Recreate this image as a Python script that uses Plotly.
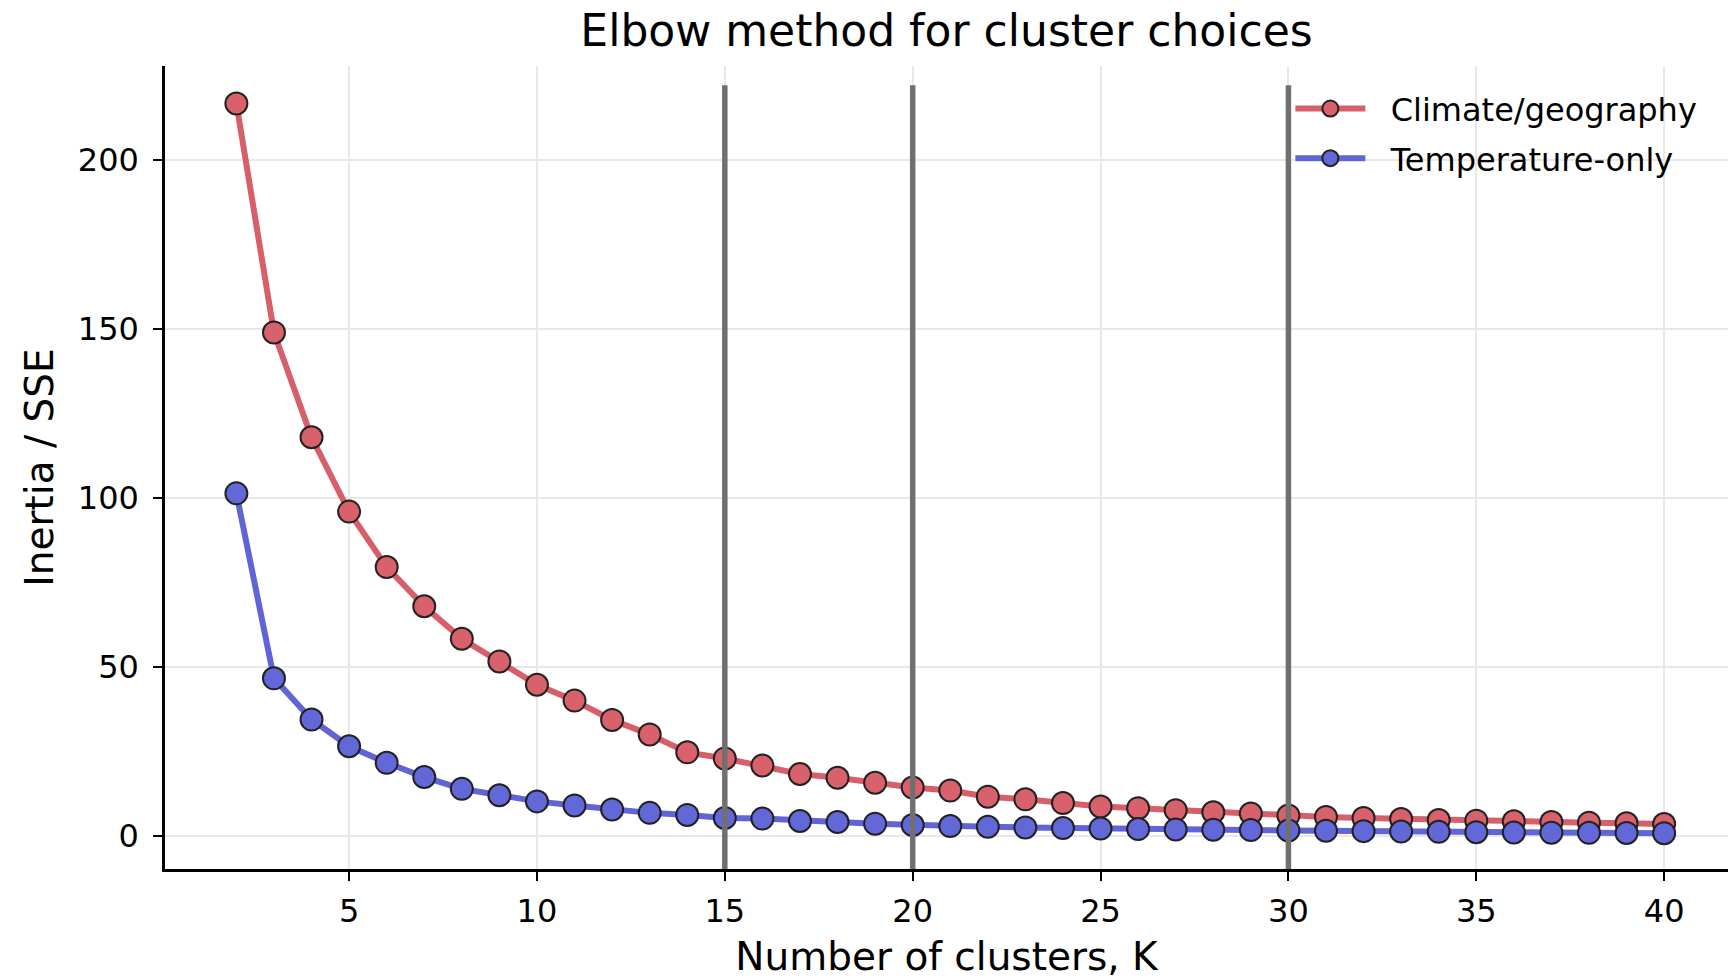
import plotly.graph_objects as go

k_values = list(range(2, 41))
climate_geo = [216.6, 148.9, 117.9, 95.9, 79.5, 67.9, 58.3, 51.6, 44.7, 40.0,
               34.3, 30.0, 24.7, 22.9, 20.8, 18.3, 17.2, 15.7, 14.3, 13.4,
               11.6, 10.8, 9.7, 8.7, 8.2, 7.6, 7.0, 6.6, 6.0, 5.6,
               5.3, 5.0, 4.7, 4.5, 4.3, 4.1, 3.9, 3.7, 3.5]
temperature_only = [101.3, 46.6, 34.4, 26.5, 21.6, 17.4, 13.9, 12.0, 10.2, 9.0,
                    7.8, 6.8, 6.2, 5.3, 5.1, 4.4, 4.1, 3.6, 3.2, 2.9,
                    2.7, 2.5, 2.3, 2.2, 2.0, 1.9, 1.8, 1.7, 1.6, 1.5,
                    1.4, 1.3, 1.2, 1.1, 1.0, 0.95, 0.9, 0.85, 0.8]
series_names = ["Climate/geography", "Temperature-only"]
vline_ks = [15, 20, 30]
x_ticks = [5, 10, 15, 20, 25, 30, 35, 40]
y_ticks = [0, 50, 100, 150, 200]

FONT = "DejaVu Sans"
PAD = "\u00a0\u00a0"

fig = go.Figure()
fig.add_trace(go.Scatter(
    x=k_values, y=climate_geo, name=PAD + series_names[0], mode="lines+markers",
    legendgroup="a",
    line=dict(color="#d65f6a", width=6),
    marker=dict(size=22, color="#d9616c", line=dict(color="#222222", width=2)),
))
fig.add_trace(go.Scatter(
    x=k_values, y=temperature_only, name=PAD + series_names[1], mode="lines+markers",
    legendgroup="b",
    line=dict(color="#6064d6", width=6),
    marker=dict(size=22, color="#6368d9", line=dict(color="#222222", width=2)),
))

for k in vline_ks:
    fig.add_shape(type="line", xref="x", yref="paper", x0=k, x1=k, y0=0, y1=0.976,
                  line=dict(color="#707070", width=5.5), layer="above")

fig.update_layout(
    width=1728, height=979,
    margin=dict(l=165, r=0, t=66, b=109.5),
    paper_bgcolor="white", plot_bgcolor="white",
    font=dict(family=FONT, color="black", size=32),
    title=dict(text="Elbow method for cluster choices", x=0.5, xref="paper",
               xanchor="center", y=1 - 31 / 979, yanchor="middle",
               font=dict(size=44, family=FONT, color="black")),
    legend=dict(x=0.72, y=0.981, xanchor="left", yanchor="top",
                bgcolor="rgba(255,255,255,0)", font=dict(size=32, family=FONT),
                itemwidth=70, traceorder="grouped", tracegroupgap=5),
    showlegend=True,
)
fig.update_xaxes(
    range=[0.1, 41.7], tickvals=x_ticks, showgrid=True, gridcolor="#e8e8e8",
    gridwidth=1.5, zeroline=False, showline=True, linecolor="black", linewidth=2.5,
    ticks="outside", ticklen=9, tickwidth=2, tickcolor="black",
    tickfont=dict(size=32, family=FONT), ticklabelstandoff=3,
    title=dict(text="Number of clusters, K", font=dict(size=39, family=FONT), standoff=23),
)
fig.update_yaxes(
    range=[-9.8, 227.7], tickvals=y_ticks, showgrid=True, gridcolor="#e8e8e8",
    gridwidth=1.5, zeroline=False, showline=True, linecolor="black", linewidth=2.5,
    ticks="outside", ticklen=9, tickwidth=2, tickcolor="black",
    tickfont=dict(size=32, family=FONT), ticklabelstandoff=8,
    title=dict(text="Inertia / SSE", font=dict(size=39, family=FONT), standoff=13),
)

fig.write_html("out.html")
